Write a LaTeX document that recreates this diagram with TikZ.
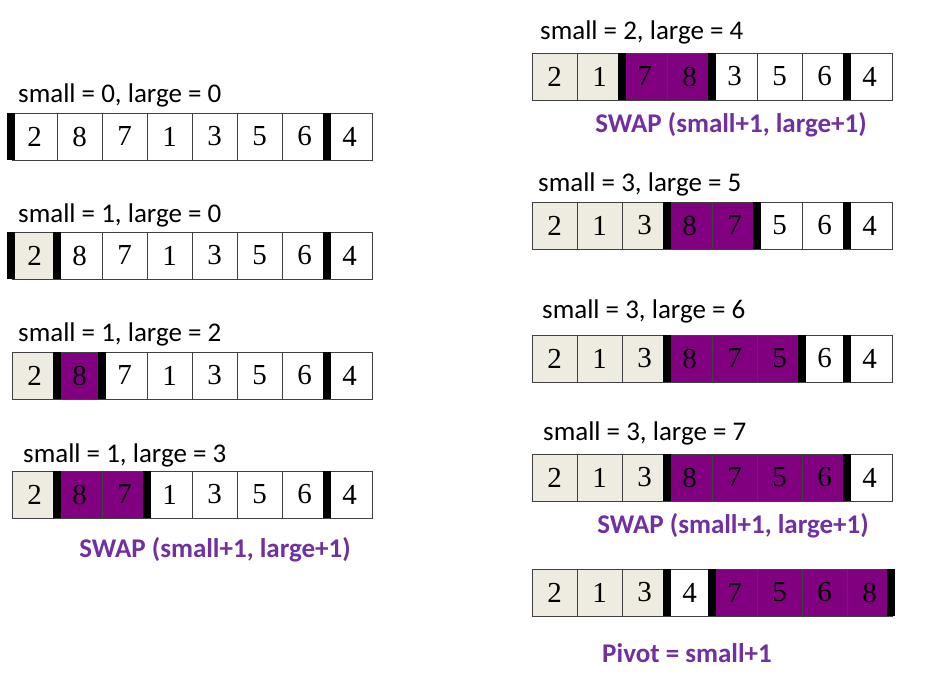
\documentclass[tikz,border=0pt]{standalone}
\usepackage{fontspec}
\setmainfont{Liberation Serif}
\newfontfamily\labfont{Carlito}
\definecolor{beige}{HTML}{EEEBE1}
\definecolor{pur}{HTML}{800080}
\definecolor{txtpur}{HTML}{7030A0}
\tikzset{
  cellbox/.style={draw=black!75, line width=0.9pt, minimum width=45pt, minimum height=47pt,
    inner sep=0pt, outer sep=0pt, font=\fontsize{29}{29}\selectfont},
  lab/.style={anchor=base west, inner sep=0pt, font=\labfont\fontsize{27}{27}\selectfont},
  swaplab/.style={anchor=base, inner sep=0pt, text=txtpur, font=\labfont\bfseries\fontsize{27}{27}\selectfont},
}
% #1 name, #2 x0, #3 ytop, #4 list value/fill, #5 list of bar x positions
\newcommand{\drawarr}[5]{%
  \foreach \v/\f [count=\i] in {#4} {
    \node[cellbox, fill=\f] (#1-\i) at ({#2+(\i-0.5)*45}, {-(#3+23.5)}) {\v};
  }
  \foreach \b in {#5} {
    \fill[black] ({\b-3.8}, {-#3}) rectangle ({\b+3.8}, {-(#3+47)});
  }
}
\begin{document}
\begin{tikzpicture}[x=1pt,y=1pt]
\useasboundingbox (0,0) rectangle (937,-685);
% left column
\node[lab] (l1) at (18,-102) {small = 0, large = 0};
\drawarr{a}{12}{113}{2/white,8/white,7/white,1/white,3/white,5/white,6/white,4/white}{11,327}
\node[lab] (l2) at (18,-222) {small = 1, large = 0};
\drawarr{b}{12}{232}{2/beige,8/white,7/white,1/white,3/white,5/white,6/white,4/white}{11,57,327}
\node[lab] (l3) at (18,-341) {small = 1, large = 2};
\drawarr{c}{12}{352}{2/beige,8/pur,7/white,1/white,3/white,5/white,6/white,4/white}{57,102,327}
\node[lab] (l4) at (23,-462) {small = 1, large = 3};
\drawarr{d}{12}{471}{2/beige,8/pur,7/pur,1/white,3/white,5/white,6/white,4/white}{57,147,327}
\node[swaplab] (s1) at (215,-557) {SWAP (small+1, large+1)};
% right column
\node[lab] (r1) at (540,-40) {small = 2, large = 4};
\drawarr{e}{532}{53}{2/beige,1/beige,7/pur,8/pur,3/white,5/white,6/white,4/white}{622,712,847}
\node[swaplab] (s2) at (731,-132) {SWAP (small+1, large+1)};
\node[lab] (r2) at (538,-191) {small = 3, large = 5};
\drawarr{f}{532}{202}{2/beige,1/beige,3/beige,8/pur,7/pur,5/white,6/white,4/white}{667,757,847}
\node[lab] (r3) at (542,-318) {small = 3, large = 6};
\drawarr{g}{532}{335}{2/beige,1/beige,3/beige,8/pur,7/pur,5/pur,6/white,4/white}{667,802,847}
\node[lab] (r4) at (543,-440) {small = 3, large = 7};
\drawarr{h}{532}{454}{2/beige,1/beige,3/beige,8/pur,7/pur,5/pur,6/pur,4/white}{667,847}
\node[swaplab] (s3) at (733,-533) {SWAP (small+1, large+1)};
\drawarr{k}{532}{569}{2/beige,1/beige,3/beige,4/white,7/pur,5/pur,6/pur,8/pur}{667,712,891}
\node[swaplab] (p1) at (687,-662) {Pivot = small+1};
\end{tikzpicture}
\end{document}
